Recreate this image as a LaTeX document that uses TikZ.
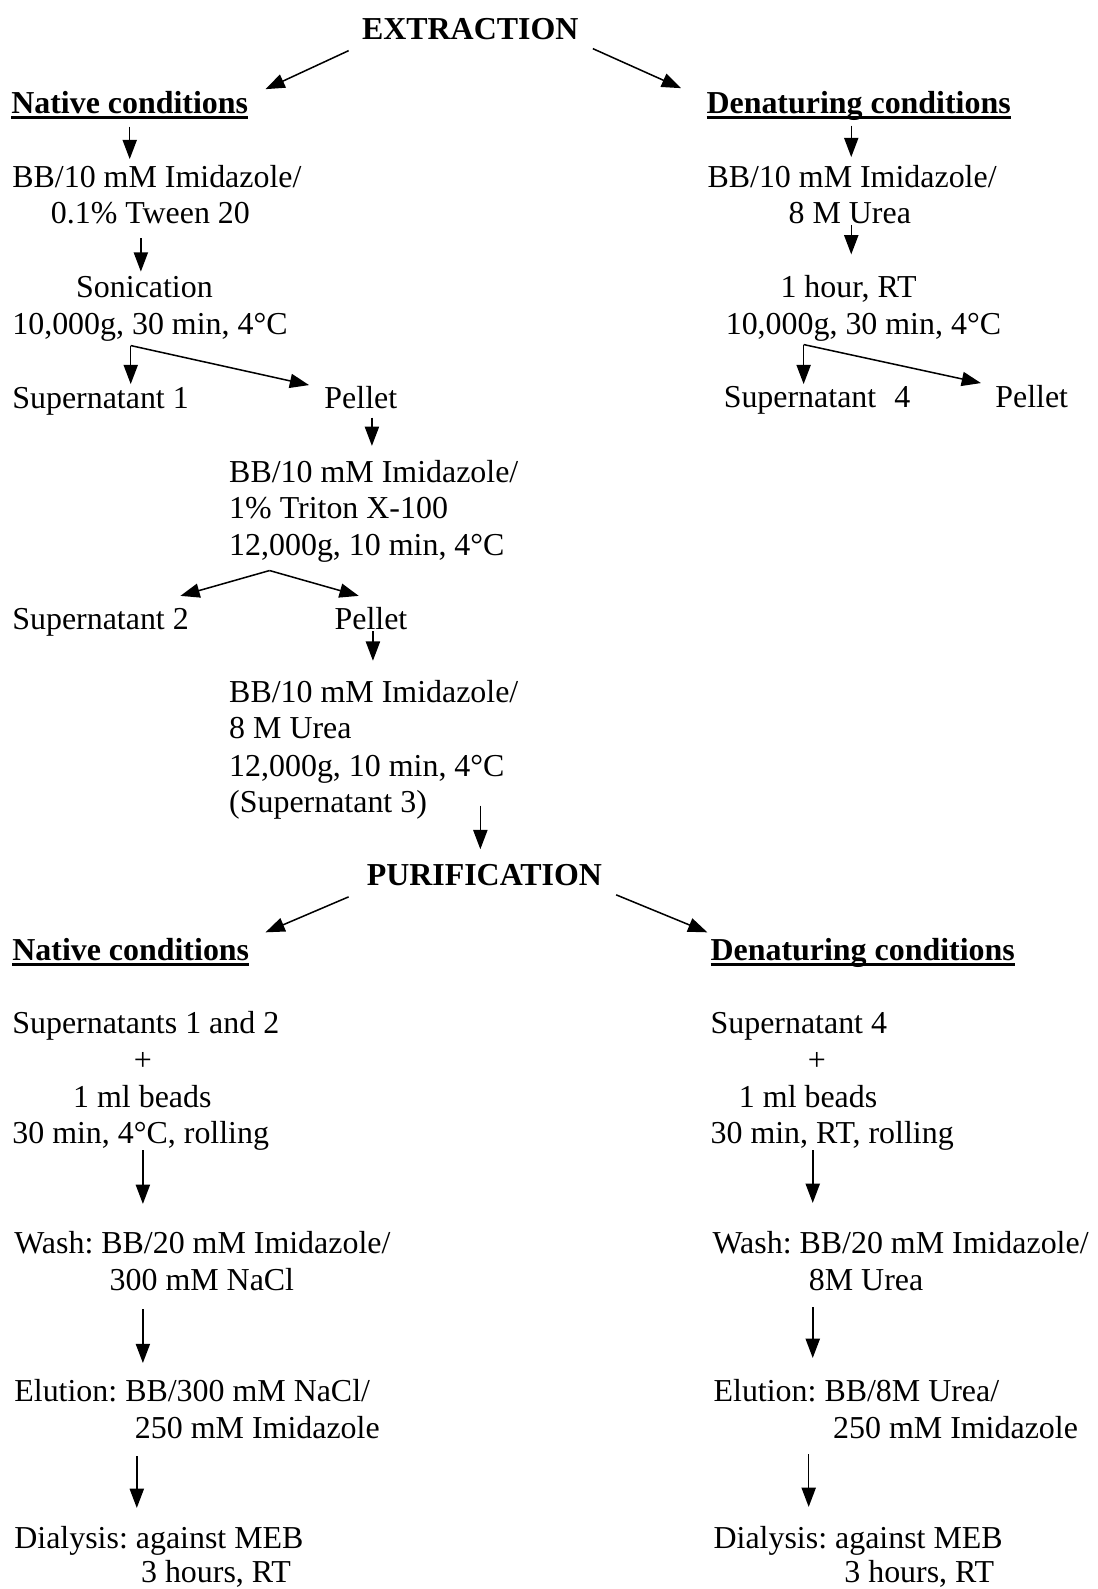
\documentclass[tikz,border=0pt]{standalone}
\usepackage{fontspec}
\setmainfont{Liberation Serif}
\usetikzlibrary{arrows.meta}
\frenchspacing
\newcommand\fs{\fontsize{31.5}{36}\selectfont\frenchspacing}
\newcommand\myul[1]{\setbox0\hbox{#1}\rlap{\rule[-5pt]{\wd0}{2.8pt}}\box0}
\tikzset{
  txt/.style={anchor=base west, inner sep=0pt, font=\fs},
  ctxt/.style={anchor=base, inner sep=0pt, font=\fs},
  hd/.style={anchor=base west, inner sep=0pt, font=\fs\bfseries},
  arr/.style={-{Triangle[length=19pt,width=14pt]}, line width=1.5pt},
}
\begin{document}
\begin{tikzpicture}[x=1pt,y=-1pt]
\useasboundingbox (0,0) rectangle (1083,1568);
% ---------- EXTRACTION ----------
\node[ctxt,font=\fs\bfseries] (extr) at (464,39) {EXTRACTION};
\node[hd] (natE) at (11,112) {\myul{Native conditions}};
\node[hd] (denE) at (697,112) {\myul{Denaturing conditions}};
\coordinate (eL1) at (344,50); \coordinate (eL2) at (262,88);
\coordinate (eR1) at (585,48); \coordinate (eR2) at (672,87);
\draw[arr] (eL1) -- (eL2);
\draw[arr] (eR1) -- (eR2);
% left column
\node[txt] (l1) at (12,185) {BB/10 mM Imidazole/};
\node[txt] (l2) at (50,221) {0.1\% Tween 20};
\node[txt] (l3) at (75,294) {Sonication};
\node[txt] (l4) at (12,330) {10,000g, 30 min, 4°C};
\node[txt] (l5) at (12,403) {Supernatant 1};
\node[txt] (l6) at (320,403) {Pellet};
\node[txt] (l7) at (226,476) {BB/10 mM Imidazole/};
\node[txt] (l8) at (226,512) {1\% Triton X-100};
\node[txt] (l9) at (226,548) {12,000g, 10 min, 4°C};
\node[txt] (l10) at (12,621) {Supernatant 2};
\node[txt] (l11) at (330,621) {Pellet};
\node[txt] (l12) at (226,693) {BB/10 mM Imidazole/};
\node[txt] (l13) at (226,729) {8 M Urea};
\node[txt] (l14) at (226,766) {12,000g, 10 min, 4°C};
\node[txt] (l15) at (226,802) {(Supernatant 3)};
\coordinate (a1s) at (128,125); \coordinate (a1e) at (128,157);
\coordinate (a2s) at (139,235); \coordinate (a2e) at (139,268);
\coordinate (f1) at (129,341); \coordinate (f1a) at (129,379); \coordinate (f1b) at (305,380);
\coordinate (a3s) at (367,412); \coordinate (a3e) at (367,440);
\coordinate (f2) at (266,563); \coordinate (f2a) at (178,588); \coordinate (f2b) at (354,588);
\coordinate (a4s) at (368,623); \coordinate (a4e) at (368,652);
\coordinate (a5s) at (474,795); \coordinate (a5e) at (474,838);
\draw[arr] (a1s) -- (a1e);
\draw[arr] (a2s) -- (a2e);
\draw[arr] (f1) -- (f1a);
\draw[arr] (f1) -- (f1b);
\draw[arr] (a3s) -- (a3e);
\draw[arr] (f2) -- (f2a);
\draw[arr] (f2) -- (f2b);
\draw[arr] (a4s) -- (a4e);
\draw[arr] (a5s) -- (a5e);
% right column
\node[txt] (r1) at (698,185) {BB/10 mM Imidazole/};
\node[txt] (r2) at (778,221) {8 M Urea};
\node[txt] (r3) at (770,294) {1 hour, RT};
\node[txt] (r4) at (716,330) {10,000g, 30 min, 4°C};
\node[txt] (r5) at (714,402) {Supernatant\hspace{18pt}4};
\node[txt] (r6) at (982,402) {Pellet};
\coordinate (b1s) at (840,124); \coordinate (b1e) at (840,155);
\coordinate (b2s) at (840,222); \coordinate (b2e) at (840,251);
\coordinate (g1) at (793,340); \coordinate (g1a) at (793,379); \coordinate (g1b) at (968,378);
\draw[arr] (b1s) -- (b1e);
\draw[arr] (b2s) -- (b2e);
\draw[arr] (g1) -- (g1a);
\draw[arr] (g1) -- (g1b);
% ---------- PURIFICATION ----------
\node[ctxt,font=\fs\bfseries] (purif) at (478,874) {PURIFICATION};
\node[hd] (natP) at (12,948) {\myul{Native conditions}};
\node[hd] (denP) at (701,948) {\myul{Denaturing conditions}};
\coordinate (pL1) at (344,885); \coordinate (pL2) at (262,920);
\coordinate (pR1) at (608,883); \coordinate (pR2) at (698,920);
\draw[arr] (pL1) -- (pL2);
\draw[arr] (pR1) -- (pR2);
% left
\node[txt] (p1) at (12,1020) {Supernatants 1 and 2};
\node[ctxt] (p1p) at (141,1056) {+};
\node[txt] (p2) at (72,1093) {1 ml beads};
\node[txt] (p3) at (12,1128) {30 min, 4°C, rolling};
\node[txt] (p4) at (14,1237) {Wash: BB/20 mM Imidazole/};
\node[txt] (p5) at (108,1273) {300 mM NaCl};
\node[txt] (p6) at (14,1383) {Elution: BB/300 mM NaCl/};
\node[txt] (p7) at (133,1419) {250 mM Imidazole};
\node[txt] (p8) at (14,1528) {Dialysis: against MEB};
\node[txt] (p9) at (139,1562) {3 hours, RT};
\coordinate (c1s) at (141,1135); \coordinate (c1e) at (141,1188);
\coordinate (c2s) at (141,1292); \coordinate (c2e) at (141,1345);
\coordinate (c3s) at (135,1437); \coordinate (c3e) at (135,1488);
\draw[arr] (c1s) -- (c1e);
\draw[arr] (c2s) -- (c2e);
\draw[arr] (c3s) -- (c3e);
% right
\node[txt] (q1) at (701,1020) {Supernatant 4};
\node[ctxt] (q1p) at (806,1056) {+};
\node[txt] (q2) at (729,1093) {1 ml beads};
\node[txt] (q3) at (701,1128) {30 min, RT, rolling};
\node[txt] (q4) at (703,1237) {Wash: BB/20 mM Imidazole/};
\node[txt] (q5) at (798,1273) {8M Urea};
\node[txt] (q6) at (704,1383) {Elution: BB/8M Urea/};
\node[txt] (q7) at (822,1419) {250 mM Imidazole};
\node[txt] (q8) at (704,1528) {Dialysis: against MEB};
\node[txt] (q9) at (833,1562) {3 hours, RT};
\coordinate (d1s) at (802,1135); \coordinate (d1e) at (802,1187);
\coordinate (d2s) at (802,1290); \coordinate (d2e) at (802,1340);
\coordinate (d3s) at (798,1435); \coordinate (d3e) at (798,1487);
\draw[arr] (d1s) -- (d1e);
\draw[arr] (d2s) -- (d2e);
\draw[arr] (d3s) -- (d3e);
\end{tikzpicture}
\end{document}
